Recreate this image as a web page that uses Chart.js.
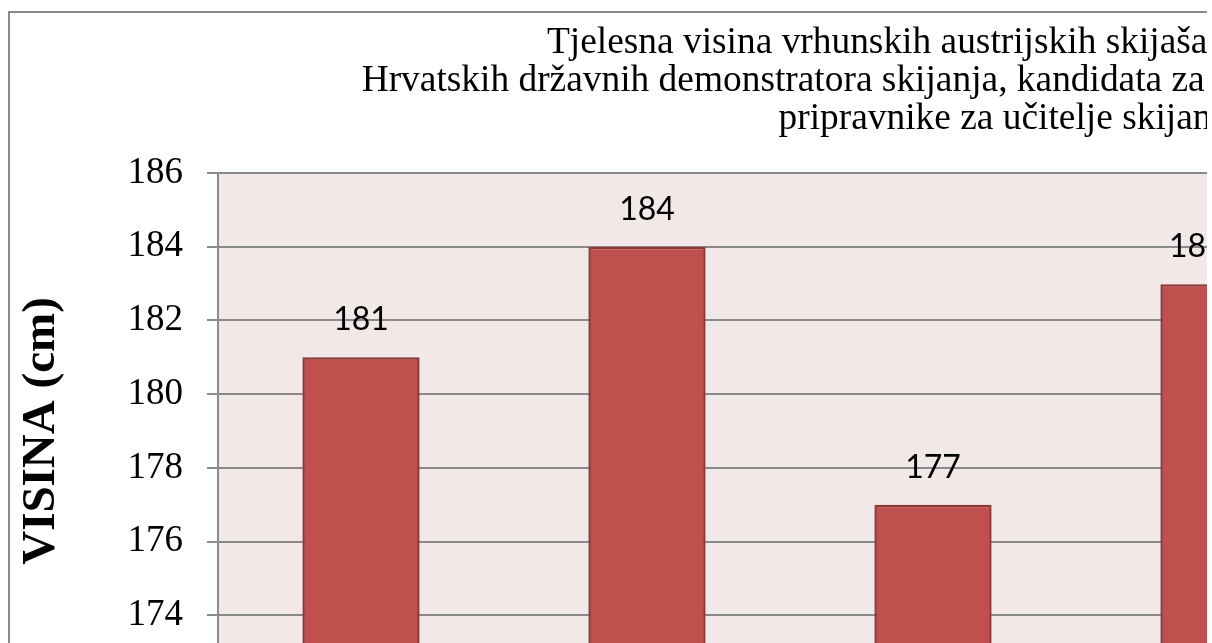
<!DOCTYPE html>
<html>
<head>
<meta charset="utf-8">
<script src="https://cdn.jsdelivr.net/npm/chart.js"></script>
<style>
    html, body { margin: 0; padding: 0; background: #fff; overflow: hidden; }
    #clip { position: relative; width: 1207px; height: 643px; overflow: hidden; background: #fff; }
    #frame { position: absolute; left: 8px; top: 11px; border: 2px solid #8a8a8a; width: 1997px; height: 760px; background: #fff; }
    canvas { display: block; }
</style>
</head>
<body>
<div id="clip">
    <div id="frame">
        <canvas id="visinaChart" width="1997" height="760"></canvas>
    </div>
</div>

<script>
    // data (the chart continues past the right / bottom edge of the crop)
    var categories = ['Austrijski skijaši', 'Državni demonstratori', 'Kandidati za demonstratore', 'Pripravnici'];
    var heights = [181, 184, 177, 182.98];
    // wrapped title lines keep their trailing space, as in the original
    var titleLines = [
        'Tjelesna visina vrhunskih austrijskih skijaša (reprezentacija), ',
        'Hrvatskih državnih demonstratora skijanja, kandidata za demonstratore skijanja, kao i ',
        'pripravnike za učitelje skijanja'
    ];
    var yMin = 172, yMax = 186, yStep = 2;

    var serif = "'Liberation Serif', 'Times New Roman', serif";

    // pink plot background like the Excel original
    var plotBackground = {
        id: 'plotBackground',
        beforeDraw: function (chart) {
            var a = chart.chartArea;
            var ctx = chart.ctx;
            ctx.save();
            ctx.fillStyle = '#f2e8e8';
            ctx.fillRect(a.left, a.top, a.right - a.left, a.bottom - a.top);
            ctx.restore();
        }
    };

    // value labels above the bars
    var valueLabels = {
        id: 'valueLabels',
        afterDatasetsDraw: function (chart) {
            var ctx = chart.ctx;
            var meta = chart.getDatasetMeta(0);
            ctx.save();
            ctx.font = '32px Lato, Carlito, sans-serif';
            ctx.fillStyle = '#000';
            ctx.textAlign = 'center';
            ctx.textBaseline = 'alphabetic';
            meta.data.forEach(function (bar, i) {
                var v = heights[i];
                if (v === null) return;
                ctx.fillText(String(v).replace('.', ','), bar.x, bar.y - 27);
            });
            ctx.restore();
        }
    };

    document.addEventListener('DOMContentLoaded', function () {
        var ctx = document.getElementById('visinaChart').getContext('2d');
        new Chart(ctx, {
            type: 'bar',
            data: {
                labels: categories,
                datasets: [{
                    label: 'VISINA (cm)',
                    data: heights,
                    backgroundColor: '#c0504d',
                    borderColor: '#8c3836',
                    borderWidth: 2.5,
                    borderSkipped: false,
                    categoryPercentage: 1,
                    barPercentage: 0.41
                }]
            },
            options: {
                responsive: false,
                animation: false,
                layout: { padding: 0 },
                plugins: {
                    legend: { display: false },
                    tooltip: { enabled: false },
                    title: {
                        display: true,
                        text: titleLines,
                        color: '#000',
                        font: { family: serif, size: 37.4, weight: 'normal', lineHeight: 1.016 },
                        padding: { top: 11.5, bottom: 34.5 }
                    }
                },
                scales: {
                    x: {
                        grid: { display: false },
                        border: { display: true, color: '#8a8a8a', width: 2 },
                        ticks: { color: '#000', font: { family: serif, size: 30 } },
                        afterFit: function (axis) { axis.height = 84; }
                    },
                    y: {
                        min: yMin,
                        max: yMax,
                        ticks: {
                            stepSize: yStep,
                            color: '#000',
                            padding: 24,
                            font: { family: serif, size: 37 }
                        },
                        grid: { color: '#8a8a8a', lineWidth: 2, tickLength: 11 },
                        border: { display: true, color: '#8a8a8a', width: 2 },
                        title: {
                            display: true,
                            text: 'VISINA (cm)',
                            color: '#000',
                            font: { family: serif, size: 47, weight: 'bold', lineHeight: 1.2 },
                            padding: { top: 4, bottom: 0 }
                        },
                        afterFit: function (axis) { axis.width = 208; }
                    },
                    // empty strip on the right of the plot (outside the crop), keeps the title centred on the whole chart
                    side: {
                        type: 'linear',
                        position: 'right',
                        grid: { display: false },
                        border: { display: false },
                        ticks: { display: false },
                        afterFit: function (axis) { axis.width = 645; }
                    }
                }
            },
            plugins: [plotBackground, valueLabels]
        });
    });
</script>
</body>
</html>
